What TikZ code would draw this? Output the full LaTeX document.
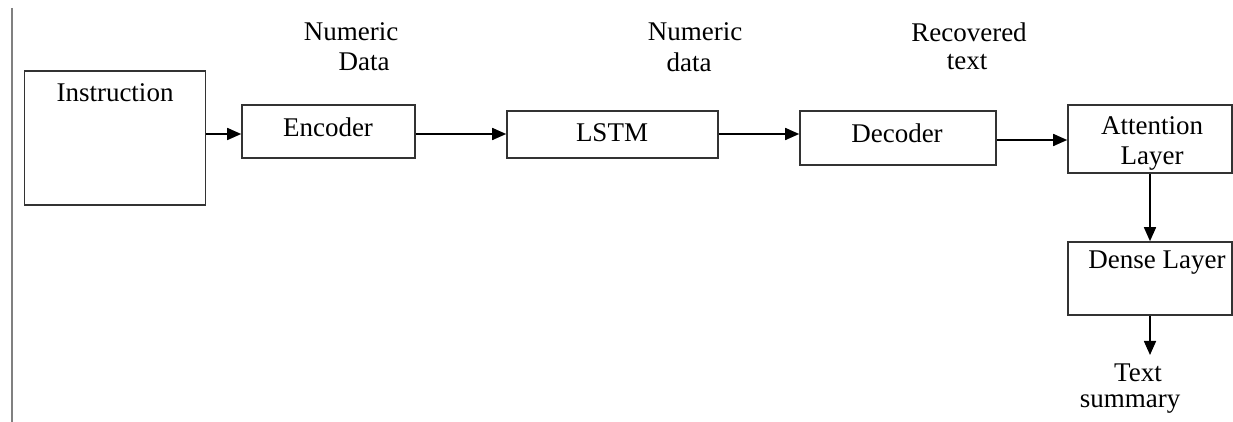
\documentclass[tikz,border=0pt]{standalone}
\usepackage{fontspec}
\setmainfont{Liberation Serif}
\usetikzlibrary{arrows.meta,calc}
\begin{document}
\begin{tikzpicture}[x=0.5pt,y=-0.5pt,
  box/.style={draw=black!80,line width=0.8pt,rectangle,inner sep=0pt},
  lbl/.style={inner sep=0pt,font=\fontsize{13.5}{14}\selectfont,align=center},
  conn/.style={line width=0.8pt,-{Triangle[length=7pt,width=6pt]}}]
\useasboundingbox (0,0) rectangle (1233,422);
\draw[gray,line width=1pt] (11.5,8) coordinate (lt) -- (11.5,422) coordinate (lb);
% boxes
\node[box,minimum width=90.5pt,minimum height=67.25pt] (instr) at (115,138) {};
\node[box,minimum width=86.5pt,minimum height=26.5pt] (enc) at (328.5,131.5) {};
\node[box,minimum width=105.5pt,minimum height=23.5pt] (lstm) at (612.5,134.5) {};
\node[box,minimum width=98pt,minimum height=27pt] (dec) at (898,138) {};
\node[box,minimum width=82pt,minimum height=34pt] (att) at (1150,139) {};
\node[box,minimum width=82pt,minimum height=36.5pt] (dense) at (1150,278.5) {};
% box texts
\node[lbl] (tinstr) at (115,93) {Instruction};
\node[lbl] (tenc) at (328,127) {Encoder};
\node[lbl] (tlstm) at (612,133) {LSTM};
\node[lbl] (tdec) at (897,133) {Decoder};
\node[lbl] (tatt) at (1152,143) {Attention\\[1pt]Layer};
\node[lbl] (tdense) at (1157,263) {Dense Layer};
% labels
\node[lbl] (n1a) at (351,32) {Numeric};
\node[lbl] (n1b) at (364,62) {Data};
\node[lbl] (n2a) at (695,32) {Numeric};
\node[lbl] (n2b) at (689,62) {data};
\node[lbl] (n3a) at (969,32) {Recovered};
\node[lbl] (n3b) at (967,62) {text};
\node[lbl] (s1) at (1138,373) {Text};
\node[lbl] (s2) at (1130,404) {summary};
\coordinate (out) at (1150,355);
% connectors
\draw[conn] (instr.east |- 0,134) -- (enc.west |- 0,134);
\draw[conn] (enc.east |- 0,134) -- (lstm.west |- 0,134);
\draw[conn] (lstm.east |- 0,134) -- (dec.west |- 0,134);
\draw[conn] (dec.east |- 0,140) -- (att.west |- 0,140);
\draw[conn] (att.south) -- (dense.north);
\draw[conn] (dense.south) -- (out);
\end{tikzpicture}
\end{document}
